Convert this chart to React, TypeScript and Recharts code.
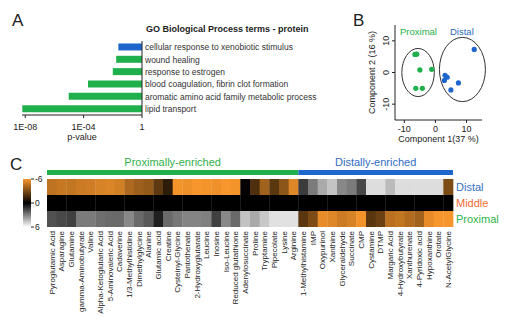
import React from 'react';
import {
  BarChart, Bar, XAxis, YAxis, Cell, Label, LabelList,
  ScatterChart, Scatter, ReferenceArea,
} from 'recharts';

const FONT = '"Liberation Sans", Arial, Helvetica, sans-serif';
const INK = '#222';
const GREEN = '#1fb04b';
const BLUE = '#1f66cc';
const ORANGE_TEXT = '#f26c35';

// ---- A: GO terms
const GO_TERMS = [
  'cellular response to xenobiotic stimulus',
  'wound healing',
  'response to estrogen',
  'blood coagulation, fibrin clot formation',
  'aromatic amino acid family metabolic process',
  'lipid transport',
];
const GO_PVALUES = [2.4e-2, 1.7e-2, 1.0e-2, 2.0e-4, 9.5e-6, 6.3e-9];
const GO_COLORS = [BLUE, GREEN, GREEN, GREEN, GREEN, GREEN];
const P_TICKS = [1e-8, 1e-4, 1];

// ---- B: PCA
const PROXIMAL_PCA = [
  { x: -6.6, y: 5.7 }, { x: -6.0, y: 5.8 }, { x: -5.0, y: 0.8 },
  { x: -1.2, y: 1.0 }, { x: -6.3, y: -5.0 }, { x: -4.2, y: -5.0 },
];
const DISTAL_PCA = [
  { x: 12.5, y: 7.3 }, { x: 3.1, y: -0.9 }, { x: 3.8, y: -1.5 },
  { x: 2.9, y: -2.5 }, { x: 7.4, y: -3.3 }, { x: 5.0, y: -5.5 },
];
const GROUP_ELLIPSES = [
  { x1: -10.8, x2: -0.35, y1: -7.6, y2: 7.6 },
  { x1: 1.3, x2: 16.1, y1: -9.2, y2: 11.1 },
];
const PCA_TICKS = [-10, 0, 10];

// ---- C: heatmap
const PROXIMAL_METABOLITES = [
  'Pyroglutamic Acid', 'Asparagine', 'Glutamine', 'gamma-Aminobutyrate', 'Valine',
  'Alpha-Ketoglutaric Acid', '5-Aminovaleric Acid', 'Cadaverine', '1/3-Methylhistidine',
  'Dimethylglycine', 'Alanine', 'Glutamic acid', 'Creatine', 'Cysteinyl-Glycine',
  'Pantothenate', '2-Hydroxyglutarate', 'Leucine', 'Inosine', 'Iso-Leucine',
  'Reduced glutathione', 'Adenylosuccinate', 'Proline', 'Tryptamine', 'Pipecolate',
  'Lysine', 'Arginine',
];
const DISTAL_METABOLITES = [
  '1-Methylhistamine', 'IMP', 'Oxypurinol', 'Xanthine', 'Glyceraldehyde', 'Succinate',
  'CMP', 'Cystamine', 'DTMP', 'Margaric Acid', '4-Hydroxybutyrate', 'Xanthurenate',
  '4-Pyridoxic acid', 'Hypoxanthine', 'Orotate', 'N-AcetylGlycine',
];
const METABOLITES = [...PROXIMAL_METABOLITES, ...DISTAL_METABOLITES];

const DISTAL_ROW = [
  -4.6, -4.8, -4.7, -4.9, -5.0, -5.2, -5.3, -5.1, -4.2, -3.8, -3.6, -2.3, -1.1,
  -5.9, -5.8, -6.0, -5.9, -5.8, -6.0, -5.9, -0.1, -1.9, -3.9, -2.2, -3.4, -5.4,
  1.4, 2.9, 4.0, 4.6, 3.2, 2.9, 1.7, 5.2, 5.2, 4.4, 5.2, 5.2, 5.2, 5.2, 5.2, -3.0,
];
const MIDDLE_ROW = [
  0, 0, 0, 0, 0, 0, 0, 0, 0, 0, 0, 0, 0, 0, 0, 0, 0, 0, 0, 0, 0,
  0, 0, 0, 0, 0, 0, 0, 0, 0, 0, 0, 0, 0, 0, 0, 0, 0, 0, 0, 0, 0,
];
const PROXIMAL_ROW = [
  1.9, 1.7, 1.5, 2.9, 2.9, 2.6, 2.5, 2.5, 3.2, 2.5, 2.1, 0.75, 2.5,
  2.8, 3.1, 3.1, 3.0, 1.5, 3.2, 2.5, 4.6, 4.0, 4.7, 5.3, 5.3, 5.3,
  -2.2, -3.0, -5.6, -5.4, -4.9, -5.2, -5.9, -2.2, -2.6, -4.5, -4.7, -4.3, -3.9, -5.6, -6.0, -6.0,
];
// bottom to top
const HEAT_ROWS = ['Proximal', 'Middle', 'Distal'];
const ROW_VALUES: Record<string, number[]> = {
  Proximal: PROXIMAL_ROW, Middle: MIDDLE_ROW, Distal: DISTAL_ROW,
};
const ROW_COLORS: Record<string, string> = {
  Proximal: '#2db34a', Middle: ORANGE_TEXT, Distal: '#3a70c4',
};
const SCALE_TICKS = [-6, 0, 6];
const SCALE_RANGE = [-6, 6];

function heatColor(v: number) {
  if (v < 0) {
    const t = Math.min(1, -v / 6);
    return `rgb(${Math.round(247 * t)},${Math.round(150 * t)},${Math.round(44 * t)})`;
  }
  const g = Math.round(255 * Math.min(1, v / 6));
  return `rgb(${g},${g},${g})`;
}

function formatP(v: number) {
  const exp = Math.round(Math.log10(v));
  if (exp === 0) return '1';
  return `1E-${String(-exp).padStart(2, '0')}`;
}

function PanelLetter({ text, left, top }: { text: string; left: number; top: number }) {
  return (
    <div style={{ position: 'absolute', left, top, fontSize: 17, lineHeight: '17px' }}>{text}</div>
  );
}

// plain text so long GO terms don't wrap
function TermTick({ x, y, payload }: any) {
  return (
    <text x={x} y={y} dy={3} textAnchor="start" fontSize={8.5} fill="#333">{payload.value}</text>
  );
}

function GoTermsChart() {
  const data = GO_TERMS.map((term, i) => ({ term, p: GO_PVALUES[i] }));
  return (
    <div style={{ position: 'absolute', left: 0, top: 0 }}>
      <BarChart width={340} height={150} data={data} layout="vertical"
                margin={{ top: 41, right: 0, bottom: 0, left: 22 }} barCategoryGap="20%">
        <XAxis type="number" scale="log" domain={[6e-9, 1]} allowDataOverflow ticks={P_TICKS}
               tickFormatter={formatP} tick={{ fontSize: 9, fill: INK }} tickSize={3} tickMargin={6}
               stroke={INK} height={35}>
          <Label value="p-value" position="insideBottom" offset={10} fontSize={9} fill={INK} />
        </XAxis>
        <YAxis type="category" dataKey="term" orientation="right" width={198} interval={0}
               tickSize={0} tickMargin={3} tick={<TermTick />} stroke={INK} />
        <Bar dataKey={(d: any) => [d.p, 1]} isAnimationActive={false}>
          {data.map((d, i) => <Cell key={i} fill={GO_COLORS[i]} />)}
        </Bar>
      </BarChart>
    </div>
  );
}

function RotatedTick({ x, y, payload }: any) {
  return (
    <text x={x} y={y} transform={`rotate(-90 ${x} ${y})`} textAnchor="middle" fontSize={9} fill={INK}>
      {payload.value}
    </text>
  );
}

function EllipseShape(props: any) {
  const { x, y, width, height } = props;
  return (
    <ellipse cx={x + width / 2} cy={y + height / 2} rx={Math.abs(width) / 2} ry={Math.abs(height) / 2}
             fill="none" stroke="#333" strokeWidth={1} />
  );
}

function PcaChart() {
  return (
    <div style={{ position: 'absolute', left: 340, top: 0 }}>
      <ScatterChart width={176} height={150} margin={{ top: 25, right: 34, bottom: 0, left: 18 }}>
        <XAxis type="number" dataKey="x" domain={[-13, 15]} allowDataOverflow ticks={PCA_TICKS}
               tickSize={3} tickMargin={3} height={30} tick={{ fontSize: 9, fill: INK }} stroke={INK}>
          <Label value="Component 1(37 %)" position="insideBottom" offset={8} fontSize={9} fill={INK} />
        </XAxis>
        <YAxis type="number" dataKey="y" domain={[-15, 15]} allowDataOverflow ticks={PCA_TICKS}
               width={37} tickSize={3} tickMargin={3} tick={<RotatedTick />} stroke={INK}>
          <Label value="Component 2 (16 %)" angle={-90} position="insideLeft" offset={14}
                 fontSize={9} fill={INK} style={{ textAnchor: 'middle' }} />
        </YAxis>
        {GROUP_ELLIPSES.map((e, i) => (
          <ReferenceArea key={i} x1={e.x1} x2={e.x2} y1={e.y1} y2={e.y2}
                         ifOverflow="visible" shape={EllipseShape} />
        ))}
        <Scatter data={PROXIMAL_PCA} fill={GREEN} isAnimationActive={false}
                 shape={(p: any) => <circle cx={p.cx} cy={p.cy} r={2.6} fill={GREEN} />} />
        <Scatter data={DISTAL_PCA} fill={BLUE} isAnimationActive={false}
                 shape={(p: any) => <circle cx={p.cx} cy={p.cy} r={2.6} fill={BLUE} />} />
      </ScatterChart>
    </div>
  );
}

function EnrichmentBands() {
  const data = [{ name: 'groups', Proximal: PROXIMAL_METABOLITES.length, Distal: DISTAL_METABOLITES.length }];
  return (
    <div style={{ position: 'absolute', left: 0, top: 150 }}>
      <BarChart width={516} height={26} layout="vertical" data={data} barCategoryGap={0}
                margin={{ top: 20, right: 63, bottom: 1.5, left: 47 }}>
        <XAxis type="number" hide domain={[0, METABOLITES.length]} />
        <YAxis type="category" dataKey="name" hide />
        <Bar dataKey="Proximal" stackId="g" fill={GREEN} isAnimationActive={false}>
          <LabelList position="top" offset={4} formatter={() => 'Proximally-enriched'}
                     fill="#2fb04a" fontSize={11} />
        </Bar>
        <Bar dataKey="Distal" stackId="g" fill={BLUE} isAnimationActive={false}>
          <LabelList position="top" offset={4} formatter={() => 'Distally-enriched'}
                     fill="#2f6cc2" fontSize={11} />
        </Bar>
      </BarChart>
    </div>
  );
}

function ScaleBar() {
  return (
    <div style={{ position: 'absolute', left: 0, top: 170 }}>
      <BarChart width={50} height={65} data={[{ name: 'scale', range: SCALE_RANGE }]} barCategoryGap={0}
                margin={{ top: 9, right: 0, bottom: 8, left: 23 }}>
        <defs>
          <linearGradient id="heatScale" x1="0" y1="0" x2="0" y2="1">
            <stop offset="0%" stopColor={heatColor(-6)} />
            <stop offset="50%" stopColor={heatColor(0)} />
            <stop offset="100%" stopColor={heatColor(6)} />
          </linearGradient>
        </defs>
        <XAxis dataKey="name" hide />
        <YAxis orientation="right" type="number" domain={[-6, 6]} reversed ticks={SCALE_TICKS}
               width={19} tickSize={3} tickMargin={1} axisLine={false} stroke={INK} interval={0}
               tick={{ fontSize: 8.5, fill: INK }} />
        <Bar dataKey="range" fill="url(#heatScale)" isAnimationActive={false} />
      </BarChart>
    </div>
  );
}

function MetaboliteTick({ x, y, payload }: any) {
  return (
    <text x={x} y={y} dy={2.8} transform={`rotate(-90 ${x} ${y})`} textAnchor="end" fontSize={8} fill={INK}>
      {payload.value}
    </text>
  );
}

function RowTick({ x, y, payload }: any) {
  const row = HEAT_ROWS[Math.floor(payload.value)];
  return (
    <text x={x} y={y} dy={4} textAnchor="start" fontSize={11} fill={ROW_COLORS[row]}>{row}</text>
  );
}

function Heatmap() {
  const data = METABOLITES.map((name) => ({ name, Proximal: 1, Middle: 1, Distal: 1 }));
  return (
    <div style={{ position: 'absolute', left: 0, top: 150 }}>
      <BarChart width={516} height={183} data={data} barCategoryGap={0} barGap={0}
                margin={{ top: 29, right: 0, bottom: 0, left: 47 }}>
        <XAxis dataKey="name" interval={0} tickSize={0} tickMargin={4} axisLine={false}
               height={106} tick={<MetaboliteTick />} />
        <YAxis orientation="right" type="number" domain={[0, 3]} ticks={[0.5, 1.5, 2.5]} interval={0}
               width={63} axisLine={false} tickSize={0} tickMargin={3} tick={<RowTick />} />
        {HEAT_ROWS.map((row) => (
          <Bar key={row} dataKey={row} stackId="heat" isAnimationActive={false}>
            {ROW_VALUES[row].map((v, i) => <Cell key={i} fill={heatColor(v)} />)}
          </Bar>
        ))}
      </BarChart>
    </div>
  );
}

export default function App() {
  return (
    <div style={{ position: 'absolute', left: 0, top: 0, width: 516, height: 333, background: '#fff',
                  fontFamily: FONT, color: INK, overflow: 'hidden' }}>
      <PanelLetter text="A" left={12} top={12} />
      <PanelLetter text="B" left={353} top={12} />
      <PanelLetter text="C" left={10} top={156} />
      <div style={{ position: 'absolute', left: 146, top: 25, fontSize: 9, lineHeight: '9px', fontWeight: 'bold' }}>
        GO Biological Process terms - protein
      </div>
      <div style={{ position: 'absolute', left: 400, top: 27, fontSize: 9.5, lineHeight: '9.5px', color: GREEN }}>
        Proximal
      </div>
      <div style={{ position: 'absolute', left: 450, top: 27, fontSize: 9.5, lineHeight: '9.5px', color: '#2f6cc2' }}>
        Distal
      </div>
      <GoTermsChart />
      <PcaChart />
      <EnrichmentBands />
      <ScaleBar />
      <Heatmap />
    </div>
  );
}
